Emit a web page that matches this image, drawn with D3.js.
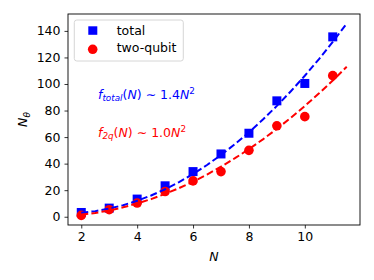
<!DOCTYPE html>
<html>
<head>
<meta charset="utf-8">
<script src="https://cdn.jsdelivr.net/npm/d3@7"></script>
<style>
  body { margin: 0; background: #fff; }
  text { font-family: "DejaVu Sans", sans-serif; }
</style>
</head>
<body>
<div id="chart"></div>
<script>
// measured data
var N = [2, 3, 4, 5, 6, 7, 8, 9, 10, 11];
var total = [3.2, 6.5, 13.3, 23.3, 34, 47.3, 62.9, 87.3, 100.4, 135.5];
var twoQubit = [1.0, 5.3, 10.3, 19, 27, 34, 50, 68.5, 75.4, 106.3];

// fitted curves, sampled
var fitN = [2, 2.5, 3, 3.5, 4, 4.5, 5, 5.5, 6, 6.5, 7, 7.5, 8, 8.5, 9, 9.5, 10, 10.5, 11, 11.5];
var fitTotal = [3.0, 4.2, 6.1, 8.7, 12.0, 16.0, 20.7, 26.1, 32.2, 39.0, 46.5, 54.7, 63.6, 73.2, 83.5, 94.5, 106.2, 118.6, 131.7, 145.5];
var fit2q = [1.5, 2.85, 4.7, 7.1, 10.0, 13.3, 17.2, 21.6, 26.4, 31.8, 37.7, 44.1, 50.9, 58.3, 66.2, 74.5, 83.4, 92.8, 102.6, 113.0];

var xTicks = [2, 4, 6, 8, 10];
var yTicks = [0, 20, 40, 60, 80, 100, 120, 140];

var W = 374, H = 280;
var margin = {top: 14, right: 14, bottom: 55, left: 68};
var width = W - margin.left - margin.right,
    height = H - margin.top - margin.bottom;

var blue = "#0000ff", red = "#ff0000";
var fs = "12.5px", fsSmall = "8.8px";

// matplotlib-like 5% padding
function pad(ext) {
    var d = (ext[1] - ext[0]) * 0.05;
    return [ext[0] - d, ext[1] + d];
}
var xExt = d3.extent(N.concat(fitN));
var yExt = d3.extent(total.concat(twoQubit, fitTotal, fit2q));

var x = d3.scaleLinear().domain(pad(xExt)).range([0, width]);
var y = d3.scaleLinear().domain(pad(yExt)).range([height, 0]);

var svg = d3.select("#chart").append("svg")
    .attr("width", W)
    .attr("height", H)
    .append("g")
    .attr("transform", "translate(" + margin.left + "," + margin.top + ")");

// axes
var xAxis = svg.append("g")
    .attr("transform", "translate(0," + height + ")")
    .call(d3.axisBottom(x).tickValues(xTicks).tickSize(3.5).tickPadding(4).tickFormat(d3.format("d")));
var yAxis = svg.append("g")
    .call(d3.axisLeft(y).tickValues(yTicks).tickSize(3.5).tickPadding(4).tickFormat(d3.format("d")));
[xAxis, yAxis].forEach(function(a) {
    a.select(".domain").remove();
    a.selectAll("text").attr("font-size", fs).attr("fill", "#000")
        .style("font-family", "DejaVu Sans");
    a.selectAll("line").attr("stroke", "#000").attr("stroke-width", 0.8);
});

// markers
svg.append("g").selectAll("rect")
    .data(N)
    .enter().append("rect")
    .attr("x", function(d) { return x(d) - 4.5; })
    .attr("y", function(d, i) { return y(total[i]) - 4.5; })
    .attr("width", 9)
    .attr("height", 9)
    .attr("fill", blue);

svg.append("g").selectAll("circle")
    .data(N)
    .enter().append("circle")
    .attr("cx", function(d) { return x(d); })
    .attr("cy", function(d, i) { return y(twoQubit[i]); })
    .attr("r", 4.8)
    .attr("fill", red);

// fit curves
var line = d3.line()
    .x(function(d) { return x(d[0]); })
    .y(function(d) { return y(d[1]); });

svg.append("path")
    .datum(d3.zip(fitN, fitTotal))
    .attr("d", line)
    .attr("fill", "none")
    .attr("stroke", blue)
    .attr("stroke-width", 2)
    .attr("stroke-dasharray", "7,3.2");

svg.append("path")
    .datum(d3.zip(fitN, fit2q))
    .attr("d", line)
    .attr("fill", "none")
    .attr("stroke", red)
    .attr("stroke-width", 2)
    .attr("stroke-dasharray", "7,3.2");

// frame
svg.append("rect")
    .attr("width", width)
    .attr("height", height)
    .attr("fill", "none")
    .attr("stroke", "#000")
    .attr("stroke-width", 0.9);

// legend
var legend = svg.append("g").attr("transform", "translate(6.3,6)");
legend.append("rect")
    .attr("width", 109)
    .attr("height", 41)
    .attr("rx", 2.5)
    .attr("fill", "#fff")
    .attr("fill-opacity", 0.8)
    .attr("stroke", "#cccccc")
    .attr("stroke-width", 0.8);
legend.append("rect")
    .attr("x", 14).attr("y", 6.3).attr("width", 9).attr("height", 8.5)
    .attr("fill", blue);
legend.append("circle")
    .attr("cx", 18.4).attr("cy", 29.3).attr("r", 4.8)
    .attr("fill", red);
legend.append("text").attr("x", 42.4).attr("y", 15).attr("font-size", fs).text("total");
legend.append("text").attr("x", 42.4).attr("y", 32).attr("font-size", fs).text("two-qubit");

// annotations
function fitLabel(xp, yp, color, sub, coef) {
    var t = svg.append("text")
        .attr("x", xp).attr("y", yp)
        .attr("font-size", fs)
        .attr("fill", color);
    t.append("tspan").attr("font-style", "italic").text("f");
    t.append("tspan").attr("font-style", "italic").attr("font-size", fsSmall)
        .attr("dy", 2.5).text(sub);
    t.append("tspan").attr("dy", -2.5).text("(");
    t.append("tspan").attr("font-style", "italic").text("N");
    t.append("tspan").text(") \u223C " + coef);
    t.append("tspan").attr("font-style", "italic").text("N");
    t.append("tspan").attr("font-size", fsSmall).attr("dy", -5).text("2");
}
fitLabel(30, 84.5, blue, "total", "1.4");
fitLabel(30, 122.5, red, "2q", "1.0");

// axis labels
svg.append("text")
    .attr("x", width / 2)
    .attr("y", height + 36)
    .attr("text-anchor", "middle")
    .attr("font-size", fs)
    .attr("font-style", "italic")
    .text("N");

var yl = svg.append("text")
    .attr("transform", "translate(-41," + (height / 2) + ") rotate(-90)")
    .attr("text-anchor", "middle")
    .attr("font-size", fs);
yl.append("tspan").attr("font-style", "italic").text("N");
yl.append("tspan").attr("font-style", "italic").attr("font-size", fsSmall).attr("dy", 2.5).text("\u03B8");
</script>
</body>
</html>
